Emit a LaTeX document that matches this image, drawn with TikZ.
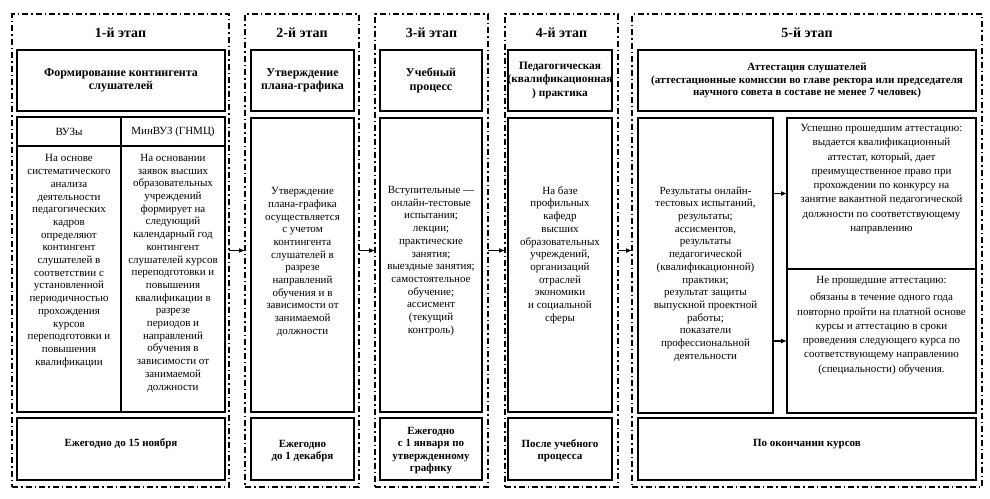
\documentclass[tikz,border=0pt]{standalone}
\usepackage{fontspec}
\setmainfont{Liberation Serif}
\usetikzlibrary{arrows.meta,fit}
\begin{document}
\begin{tikzpicture}[x=1pt,y=-1pt,
 frame/.style={draw, line width=1.3pt, dash pattern=on 6pt off 3pt on 1.5pt off 3pt, inner sep=0pt, outer sep=0pt},
 box/.style={draw, line width=1.1pt, inner sep=0pt, outer sep=0pt},
 title/.style={font=\fontsize{14}{16}\selectfont\bfseries, inner sep=0pt},
 head/.style={font=\fontsize{12}{13.5}\selectfont\bfseries, align=center, inner sep=0pt},
 headsm/.style={font=\fontsize{11}{12.3}\selectfont\bfseries, align=center, inner sep=0pt},
 txt/.style={font=\fontsize{11}{12.7}\selectfont, align=center, inner sep=0pt},
 txtw/.style={font=\fontsize{11}{14.3}\selectfont, align=center, inner sep=0pt},
 arr/.style={-{Latex[length=6pt,width=5pt]}, line width=1.2pt}]
\useasboundingbox[fill=white] (0,0) rectangle (990,498);

% frames
\node[frame, fit={(12,14) (229,487)}] (F1) {};
\node[frame, fit={(245,14) (359,487)}] (F2) {};
\node[frame, fit={(375,14) (488,487)}] (F3) {};
\node[frame, fit={(505,14) (618,487)}] (F4) {};
\node[frame, fit={(632,14) (982,487)}] (F5) {};

% titles
\node[title] (t1) at (120.5,33) {1-й этап};
\node[title] (t2) at (302,33) {2-й этап};
\node[title] (t3) at (431.5,33) {3-й этап};
\node[title] (t4) at (561.5,33) {4-й этап};
\node[title] (t5) at (807,33) {5-й этап};

% top boxes
\node[box, fit={(17,50) (225,111)}] (T1) {};
\node[box, fit={(251,50) (354,111)}] (T2) {};
\node[box, fit={(380,50) (482,111)}] (T3) {};
\node[box, fit={(508,50) (612,111)}] (T4) {};
\node[box, fit={(638,50) (976,111)}] (T5) {};
\node[head] (T1t) at (T1.center) {Формирование контингента\\слушателей};
\node[head] (T2t) at (T2.center) {Утверждение\\плана-графика};
\node[head] (T3t) at (T3.center) {Учебный\\процесс};
\node[head, font=\fontsize{11.3}{13.3}\selectfont\bfseries] (T4t) at (T4.center) {Педагогическая\\(квалификационная\\) практика};
\node[headsm] (T5t) at (T5.center) {Аттестация слушателей\\(аттестационные комиссии во главе ректора или председателя\\научного совета в составе не менее 7 человек)};

% stage 1 body
\node[box, fit={(17,117) (121,146)}] (H1L) {};
\node[box, fit={(121,117) (225,146)}] (H1R) {};
\node[box, fit={(17,146) (121,412)}] (B1L) {};
\node[box, fit={(121,146) (225,412)}] (B1R) {};
\node[txt] (H1Lt) at (H1L.center) {ВУЗы};
\node[txt] (H1Rt) at (H1R.center) {МинВУЗ (ГНМЦ)};
\node[txt, anchor=north] (B1Lt) at (69,154.5) {На основе\\систематического\\анализа\\деятельности\\педагогических\\кадров\\определяют\\контингент\\слушателей в\\соответствии с\\установленной\\периодичностью\\прохождения\\курсов\\переподготовки и\\повышения\\квалификации};
\node[txt, anchor=north] (B1Rt) at (173,154) {На основании\\заявок высших\\образовательных\\учреждений\\формирует на\\следующий\\календарный год\\контингент\\слушателей курсов\\переподготовки и\\повышения\\квалификации в\\разрезе\\периодов и\\направлений\\обучения в\\зависимости от\\занимаемой\\должности};

% stages 2-4 bodies
\node[box, fit={(251,118) (354,412)}] (B2) {};
\node[box, fit={(380,118) (482,412)}] (B3) {};
\node[box, fit={(508,118) (612,412)}] (B4) {};
\node[txt] (B2t) at (302.5,262) {Утверждение\\плана-графика\\осуществляется\\с учетом\\контингента\\слушателей в\\разрезе\\направлений\\обучения и в\\зависимости от\\занимаемой\\должности};
\node[txt] (B3t) at (431,261) {Вступительные —\\онлайн-тестовые\\испытания;\\лекции;\\практические\\занятия;\\выездные занятия;\\самостоятельное\\обучение;\\ассисмент\\(текущий\\контроль)};
\node[txt] (B4t) at (560,255) {На базе\\профильных\\кафедр\\высших\\образовательных\\учреждений,\\организаций\\отраслей\\экономики\\и социальной\\сферы};

% stage 5 bodies
\node[box, fit={(638,118) (773,413)}] (B5L) {};
\node[box, fit={(787,118) (976,269)}] (B5RT) {};
\node[box, fit={(787,269) (976,413)}] (B5RB) {};
\node[txt] (B5Lt) at (705.5,274) {Результаты онлайн-\\тестовых испытаний,\\результаты;\\ассисментов,\\результаты\\педагогической\\(квалификационной)\\практики;\\результат защиты\\выпускной проектной\\работы;\\показатели\\профессиональной\\деятельности};
\node[txtw, anchor=north] (B5RTt) at (881.5,124) {Успешно прошедшим аттестацию:\\выдается квалификационный\\аттестат, который, дает\\преимущественное право при\\прохождении по конкурсу на\\занятие вакантной педагогической\\должности по соответствующему\\направлению};
\node[txtw, anchor=north] (B5RBt) at (881.5,276) {Не прошедшие аттестацию:\\[3pt]обязаны в течение одного года\\повторно пройти на платной основе\\курсы и аттестацию в сроки\\проведения следующего курса по\\соответствующему направлению\\(специальности) обучения.};

% bottom boxes
\node[box, fit={(17,418) (225,480)}] (E1) {};
\node[box, fit={(251,418) (354,480)}] (E2) {};
\node[box, fit={(380,418) (482,480)}] (E3) {};
\node[box, fit={(508,418) (612,480)}] (E4) {};
\node[box, fit={(638,418) (976,480)}] (E5) {};
\node[headsm] (E1t) at (121,444) {Ежегодно до 15 ноября};
\node[headsm] (E2t) at (302.5,451) {Ежегодно\\до 1 декабря};
\node[headsm] (E3t) at (431,450.5) {Ежегодно\\с 1 января по\\утвержденному\\графику};
\node[headsm] (E4t) at (560,451) {После учебного\\процесса};
\node[headsm] (E5t) at (807,444) {По окончании курсов};

% arrows
\draw[arr] (F1.east) -- (F2.west);
\draw[arr] (F2.east) -- (F3.west);
\draw[arr] (F3.east) -- (F4.west);
\draw[arr] (F4.east) -- (F5.west);
\draw[arr] (B5L.east |- B5RT.west) -- (B5RT.west);
\draw[arr] (B5L.east |- B5RB.west) -- (B5RB.west);
\end{tikzpicture}
\end{document}
